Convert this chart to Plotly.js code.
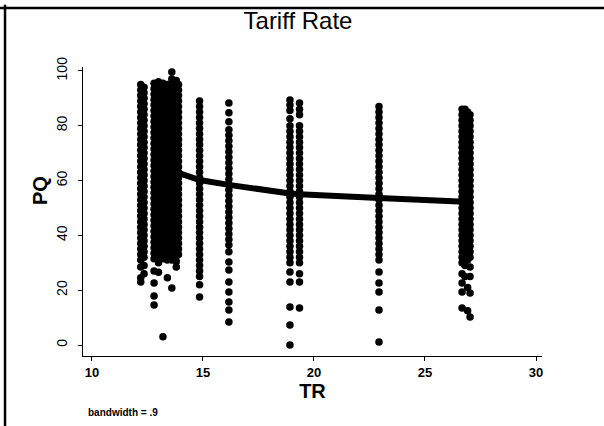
<!DOCTYPE html>
<html>
<head>
<meta charset="utf-8">
<script src="https://cdn.plot.ly/plotly-3.0.1.min.js"></script>
<style>
html,body{margin:0;padding:0;background:#fff;}
#chart{width:604px;height:426px;}
</style>
</head>
<body>
<div id="chart"></div>
<script>
const trValues = [12.2, 12.35, 12.8, 13.0, 13.2, 13.4, 13.6, 13.8, 13.9, 14.85, 16.17, 18.92, 19.35, 22.93, 26.67, 26.8, 26.92, 27.03];

const pq_1220 = [95,93,91,89,87,85,83,81,79,77,75,73,71,69,67,65,63,61,59,57,55,53,51,49,47,45,43,41,39,37,35,33,31,28.5,24.5,23];
const pq_1235 = [94,92,90,88,86,84,82,80,78,76,74,72,70,68,66,64,62,60,58,56,54,52,50,48,46,44,42,40,38,36,34,32,29,26];
const pq_1280 = [95.5,93.5,91.5,89.5,87.5,85.5,83.5,81.5,79.5,77.5,75.5,73.5,71.5,69.5,67.5,65.5,63.5,61.5,59.5,57.5,55.5,53.5,51.5,49.5,47.5,45.5,43.5,41.5,39.5,37.5,35.5,33.5,31.5,27,22.6,17.9,14.6];
const pq_1300 = [96,94,92,90,88,86,84,82,80,78,76,74,72,70,68,66,64,62,60,58,56,54,52,50,48,46,44,42,40,38,36,34,32,30,26.5];
const pq_1320 = [95.5,93.5,91.5,89.5,87.5,85.5,83.5,81.5,79.5,77.5,75.5,73.5,71.5,69.5,67.5,65.5,63.5,61.5,59.5,57.5,55.5,53.5,51.5,49.5,47.5,45.5,43.5,41.5,39.5,37.5,35.5,33.5,31.5,3];
const pq_1340 = [95,93,91,89,87,85,83,81,79,77,75,73,71,69,67,65,63,61,59,57,55,53,51,49,47,45,43,41,39,37,35,33,31,24.5];
const pq_1360 = [99.6,97,95,93,91,89,87,85,83,81,79,77,75,73,71,69,67,65,63,61,59,57,55,53,51,49,47,45,43,41,39,37,35,33,31,20.8];
const pq_1380 = [96.5,94.5,92.5,90.5,88.5,86.5,84.5,82.5,80.5,78.5,76.5,74.5,72.5,70.5,68.5,66.5,64.5,62.5,60.5,58.5,56.5,54.5,52.5,50.5,48.5,46.5,44.5,42.5,40.5,38.5,36.5,34.5,32.5,30.5,28.5];
const pq_1390 = [95,93,91,89,87,85,83,81,79,77,75,73,71,69,67,65,63,61,59,57,55,53,51,49,47,45,43,41,39,37,35,33];
const pq_1485 = [89,87,85,83,81,79,77,75,73,71,69,67,65,63,61,59,57,55,53,51,49,47,45,43,41,39,37,35,33,31,29,27,25,22,17.5];
const pq_1617 = [88.3,84.7,81.4,78.5,76.5,74.5,72.5,70.5,68.5,66.5,64.5,62.5,60.5,58.5,56.5,54.5,52.5,50.5,48.5,46.5,44.5,42.5,40.5,38.5,36.5,34,30.3,27.4,23,19.3,15.7,12.8,8.4];
const pq_1892 = [89.4,87.5,85.5,82.5,80,78,76,74,72,70,68,66,64,62,60,58,56,54,52,50,48,46,44,42,40,38,36,34,32,30,26.6,23,13.9,7.3,0];
const pq_1935 = [88.3,86,84,80,78,76,74,72,70,68,66,64,62,60,58,56,54,52,50,48,46,44,42,40,38,36,34,32,30,26,23,13.5];
const pq_2293 = [87,85,83,81,79,77,75,73,71,69,67,65,63,61,59,57,55,53,51,49,47,45,43,41,39,37,35,33,31,26.6,22.6,19.3,12.8,1.1];
const pq_2667 = [86,84,82,80,78,76,74,72,70,68,66,64,62,60,58,56,54,52,50,48,46,44,42,40,38,36,34,32,30,26,22.6,19.3,13.5];
const pq_2680 = [86,84,82,80,78,76,74,72,70,68,66,64,62,60,58,56,54,52,50,48,46,44,42,40,38,36,34,32,29,25];
const pq_2692 = [85,83,81,79,77,75,73,71,69,67,65,63,61,59,57,55,53,51,49,47,45,43,41,39,37,35,33,31,21,12.5];
const pq_2703 = [84,82,80,78,76,74,72,70,68,66,64,62,60,58,56,54,52,50,48,46,44,42,40,38,36,34,32,28.5,25,19,10.2];

const pqColumns = [pq_1220, pq_1235, pq_1280, pq_1300, pq_1320, pq_1340, pq_1360, pq_1380, pq_1390,
                   pq_1485, pq_1617, pq_1892, pq_1935, pq_2293, pq_2667, pq_2680, pq_2692, pq_2703];

// lowess smooth (bandwidth .9)
const lowessTR = [13.0, 13.9, 14.85, 16.17, 18.92, 19.35, 22.93, 26.67, 27.03];
const lowessPQ = [64.5, 62.8, 60.2, 58.4, 55.3, 55.0, 53.6, 52.3, 52.2];

const xTicks = [10, 15, 20, 25, 30];
const yTicks = [0, 20, 40, 60, 80, 100];

// ---- build scatter ----
const sx = [], sy = [];
trValues.forEach((tr, i) => {
  pqColumns[i].forEach(v => { sx.push(tr); sy.push(v); });
});

const FONT = 'Liberation Sans, Arial, sans-serif';

const traces = [
  {
    type: 'scatter', mode: 'markers', x: sx, y: sy,
    marker: {color: '#000', size: 7.5, line: {width: 0}},
    hoverinfo: 'skip', showlegend: false
  },
  {
    type: 'scatter', mode: 'lines', x: lowessTR, y: lowessPQ,
    line: {color: '#000', width: 6},
    hoverinfo: 'skip', showlegend: false
  }
];

const layout = {
  width: 604, height: 426,
  margin: {l: 83, r: 62, t: 67, b: 70, pad: 0},
  paper_bgcolor: '#fff', plot_bgcolor: '#fff',
  font: {family: FONT, color: '#000'},
  showlegend: false,
  title: {
    text: 'Tariff Rate',
    font: {family: FONT, size: 24, color: '#000'},
    xref: 'container', x: 0.4934, xanchor: 'center',
    yref: 'container', y: 0.951, yanchor: 'middle'
  },
  xaxis: {
    range: [9.6, 30.27],
    tickvals: xTicks, ticktext: xTicks.map(String),
    ticks: 'outside', ticklen: 4, tickcolor: '#000', tickwidth: 1,
    showline: true, linecolor: '#000', linewidth: 1,
    showgrid: false, zeroline: false,
    tickfont: {family: FONT, size: 13, weight: 'bold', color: '#000'},
    title: {text: 'TR', font: {family: FONT, size: 20, weight: 'bold', color: '#000'}, standoff: 0}
  },
  yaxis: {
    range: [-4, 101.4],
    tickvals: yTicks, ticktext: yTicks.map(String),
    tickangle: -90,
    ticks: 'outside', ticklen: 4, tickcolor: '#000', tickwidth: 1,
    showline: true, linecolor: '#000', linewidth: 1,
    showgrid: false, zeroline: false,
    tickfont: {family: FONT, size: 14, color: '#000'},
    ticklabelstandoff: 5
  },
  annotations: [
    {
      text: 'PQ', showarrow: false, textangle: -90,
      xref: 'paper', x: -0.0937, xanchor: 'center',
      yref: 'paper', y: 0.574, yanchor: 'middle',
      font: {family: FONT, size: 20, weight: 'bold', color: '#000'}
    },
    {
      text: 'bandwidth = .9', showarrow: false,
      xref: 'paper', x: 0.0065, xanchor: 'left',
      yref: 'paper', y: -0.194, yanchor: 'middle',
      font: {family: FONT, size: 10, weight: 'bold', color: '#000'}
    }
  ],
  shapes: [
    {type: 'line', xref: 'paper', yref: 'paper', x0: -0.2, x1: 1.2, y0: 1.204, y1: 1.204, line: {color: '#000', width: 2.5}},
    {type: 'line', xref: 'paper', yref: 'paper', x0: -0.1699, x1: -0.1699, y0: 1.215, y1: -0.25, line: {color: '#000', width: 2.5}}
  ]
};

Plotly.newPlot('chart', traces, layout, {displayModeBar: false, staticPlot: true});
</script>
</body>
</html>
